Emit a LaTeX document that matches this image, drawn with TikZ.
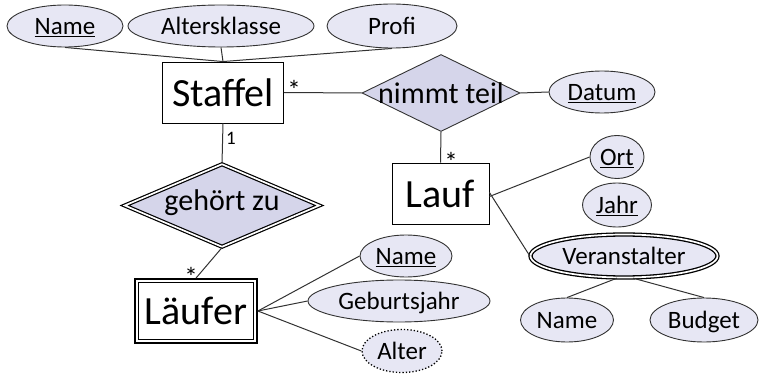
\documentclass[tikz,border=0pt]{standalone}
\usepackage{fontspec}
\setmainfont{Carlito}
\usetikzlibrary{shapes.geometric}
\definecolor{attrfill}{RGB}{231,231,244}
\definecolor{relfill}{RGB}{213,213,234}
\definecolor{linec}{RGB}{50,50,50}
\tikzset{
  attr/.style={ellipse, draw=linec, line width=0.9pt, fill=attrfill, inner sep=0pt, text height=21pt, text depth=4pt, font=\fontsize{25}{30}\selectfont},
  entity/.style={rectangle, draw=black, line width=0.9pt, fill=white, inner sep=0pt, font=\fontsize{40}{48}\selectfont},
  rel/.style={diamond, draw=black!80, line width=0.9pt, fill=relfill, inner sep=0pt},
  reltext/.style={inner sep=0pt, font=\fontsize{30}{36}\selectfont},
  conn/.style={draw=linec, line width=1pt},
  card/.style={inner sep=0pt, font=\fontsize{19}{22}\selectfont},
  star/.style={inner sep=0pt, font=\fontsize{27}{30}\selectfont}
}
\begin{document}
\begin{tikzpicture}[x=1pt,y=-1pt]
\useasboundingbox (0,0) rectangle (760,374);

% attributes of Staffel
\node[attr, minimum width=116pt, minimum height=42pt] (nameS) at (65,26) {\underline{Name}};
\node[attr, minimum width=186pt, minimum height=42pt] (alters) at (221,26) {Altersklasse};
\node[attr, minimum width=130pt, minimum height=44pt] (profi) at (392,26) {Profi};

% entities
\node[entity, minimum width=121pt, minimum height=61pt] (staffel) at (223,92.5) {Staffel};
\node[entity, minimum width=97pt, minimum height=61pt] (lauf) at (440.5,193.5) {Lauf};
\node[entity, line width=1.8pt, minimum width=122pt, minimum height=64pt] (laeufer) at (196,311) {Läufer};
\draw[line width=1pt] ([shift={(4.5pt,-4.5pt)}]laeufer.north west) rectangle ([shift={(-4.5pt,4.5pt)}]laeufer.south east);

% relationships
\node[rel, minimum width=158pt, minimum height=77pt] (nimmt) at (441,93) {};
\node[reltext] (nimmtT) at (441,93) {nimmt teil};
\node[rel, draw=black, line width=1.2pt, double=white, double distance=1.7pt, minimum width=195pt, minimum height=83pt] (gehoert) at (222,205.5) {};
\node[reltext] (gehoertT) at (222,203) {gehört zu};

% other attributes
\node[attr, minimum width=106pt, minimum height=42pt] (datum) at (602,92) {\underline{Datum}};
\node[attr, minimum width=54pt, minimum height=43pt] (ort) at (617,157) {\underline{Ort}};
\node[attr, minimum width=69pt, minimum height=44pt] (jahr) at (617,205) {\underline{Jahr}};
\node[attr, draw=black, line width=1.3pt, double=white, double distance=1.7pt, minimum width=187pt, minimum height=43pt] (veran) at (624,256) {Veranstalter};
\node[attr, minimum width=93pt, minimum height=44pt] (name2) at (567,320) {Name};
\node[attr, minimum width=108pt, minimum height=44pt] (budget) at (704,320) {Budget};
\node[attr, minimum width=92pt, minimum height=42pt] (nameL) at (406,256) {\underline{Name}};
\node[attr, minimum width=182pt, minimum height=42pt] (geb) at (399,301) {Geburtsjahr};
\node[attr, draw=black, line width=1.3pt, dotted, minimum width=80pt, minimum height=43pt] (alter) at (402,351) {Alter};

% connectors
\draw[conn] (nameS.south) -- (staffel.north);
\draw[conn] (alters.south) -- (staffel.north);
\draw[conn] (profi.south) -- (staffel.north);
\draw[conn] (staffel.east) -- (nimmt.west);
\draw[conn] (nimmt.east) -- (datum.west);
\draw[conn] (nimmt.south) -- (lauf.north);
\draw[conn] (staffel.south) -- (gehoert.north);
\draw[conn] (gehoert.south) -- (laeufer.north);
\draw[conn] ([yshift=-3pt]lauf.east) -- (ort.west);
\draw[conn] ([yshift=1pt]lauf.east) -- (veran.west);
\draw[conn] ([xshift=-7pt]veran.south) -- (name2.north);
\draw[conn] ([xshift=9pt]veran.south) -- (budget.north);
\draw[conn] (laeufer.east) -- (nameL.west);
\draw[conn] (laeufer.east) -- (geb.west);
\draw[conn] (laeufer.east) -- (alter.west);

% cardinalities
\node[star] (c1) at (294,90) {*};
\node[card] (c2) at (231,138) {1};
\node[star] (c3) at (451,162) {*};
\node[star] (c4) at (191,277) {*};
\end{tikzpicture}
\end{document}
